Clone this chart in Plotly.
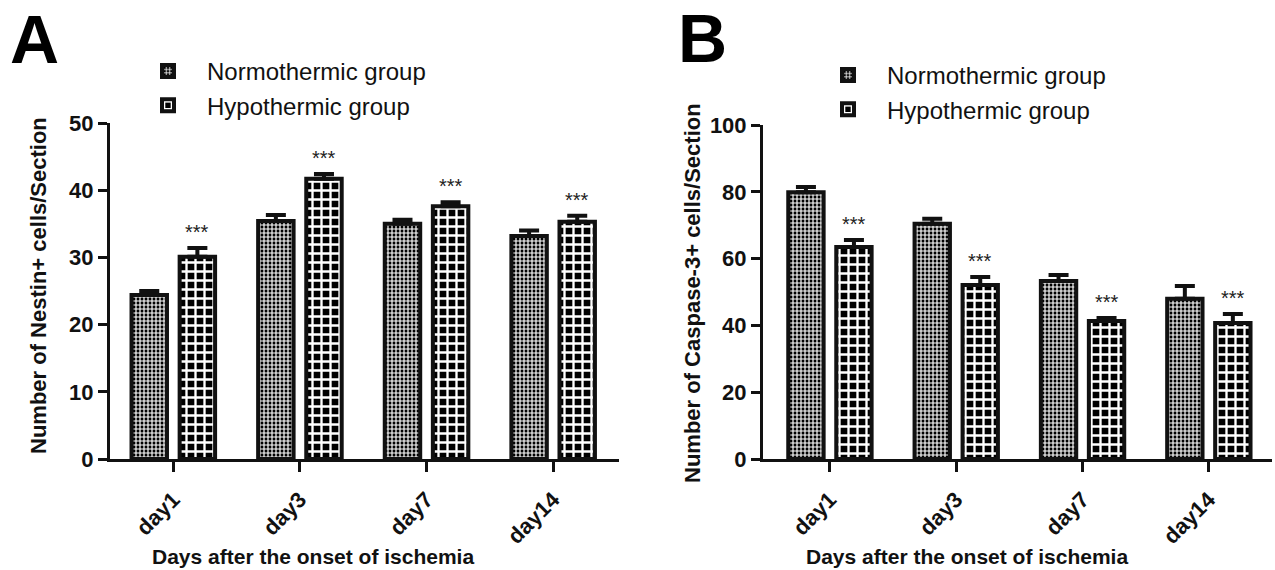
import plotly.graph_objects as go

# ---------------- data ----------------
days = ["day1", "day3", "day7", "day14"]

nestin_normo = [24.4, 35.4, 35.0, 33.2]
nestin_normo_err = [0.6, 0.9, 0.6, 0.8]
nestin_hypo = [30.1, 41.7, 37.6, 35.3]
nestin_hypo_err = [1.3, 0.7, 0.6, 0.9]

casp_normo = [79.9, 70.4, 53.3, 48.0]
casp_normo_err = [1.5, 1.5, 1.8, 3.8]
casp_hypo = [63.5, 52.1, 41.3, 40.7]
casp_hypo_err = [2.1, 2.4, 0.9, 2.7]

sig_label = "***"
series_names = ["Normothermic group", "Hypothermic group"]

# ---------------- style ----------------
FONT = "Liberation Sans, Arial, sans-serif"
BAR_W = 0.28
OFF_N = -0.33
OFF_H = 0.05
W, H = 1275, 570


def px_x(p):
    return p / W


def px_y(p):
    return 1 - p / H


fine_pat = dict(shape="+", fgcolor="white", bgcolor="black", size=4, solidity=0.5, fillmode="replace")
coarse_pat = dict(shape="+", fgcolor="white", bgcolor="black", size=9, solidity=0.45, fillmode="replace")


def bar(name, vals, errs, offset, pattern, xa, ya, legend, show):
    return go.Bar(
        name=name, x=days, y=vals, offset=offset, width=BAR_W,
        xaxis=xa, yaxis=ya, legend=legend, showlegend=show,
        marker=dict(color="white", line=dict(color="#111", width=4), pattern=pattern),
        error_y=dict(type="data", symmetric=False, array=errs, arrayminus=[0] * len(errs),
                     color="#111", thickness=4, width=10),
    )


fig = go.Figure()
fig.add_trace(bar(series_names[0], nestin_normo, nestin_normo_err, OFF_N, fine_pat, "x", "y", "legend", True))
fig.add_trace(bar(series_names[1], nestin_hypo, nestin_hypo_err, OFF_H, coarse_pat, "x", "y", "legend", True))
fig.add_trace(bar(series_names[0], casp_normo, casp_normo_err, OFF_N, fine_pat, "x2", "y2", "legend2", True))
fig.add_trace(bar(series_names[1], casp_hypo, casp_hypo_err, OFF_H, coarse_pat, "x2", "y2", "legend2", True))

annotations = []
for i in range(len(days)):
    annotations.append(dict(x=i + OFF_H + BAR_W / 2, y=nestin_hypo[i] + nestin_hypo_err[i],
                            xref="x", yref="y", text=sig_label, showarrow=False,
                            yanchor="middle", yshift=16, font=dict(family=FONT, size=20, color="#222")))
    annotations.append(dict(x=i + OFF_H + BAR_W / 2, y=casp_hypo[i] + casp_hypo_err[i],
                            xref="x2", yref="y2", text=sig_label, showarrow=False,
                            yanchor="middle", yshift=16, font=dict(family=FONT, size=20, color="#222")))

# panel letters
annotations.append(dict(x=px_x(8), y=px_y(39), xref="paper", yref="paper", text="A", showarrow=False,
                        xanchor="left", yanchor="middle", font=dict(family=FONT, size=68, color="black", weight="bold")))
annotations.append(dict(x=px_x(676), y=px_y(38), xref="paper", yref="paper", text="B", showarrow=False,
                        xanchor="left", yanchor="middle", font=dict(family=FONT, size=68, color="black", weight="bold")))

# axis titles
xtitle = "Days after the onset of ischemia"
annotations.append(dict(x=px_x(313), y=px_y(556), xref="paper", yref="paper", text=xtitle, showarrow=False,
                        xanchor="center", yanchor="middle", font=dict(family=FONT, size=21, color="#111", weight="bold")))
annotations.append(dict(x=px_x(967), y=px_y(556), xref="paper", yref="paper", text=xtitle, showarrow=False,
                        xanchor="center", yanchor="middle", font=dict(family=FONT, size=21, color="#111", weight="bold")))
annotations.append(dict(x=px_x(38), y=px_y(286), xref="paper", yref="paper", text="Number of Nestin+ cells/Section",
                        showarrow=False, textangle=-90, xanchor="center", yanchor="middle",
                        font=dict(family=FONT, size=22, color="#111", weight="bold")))
annotations.append(dict(x=px_x(692), y=px_y(293), xref="paper", yref="paper", text="Number of Caspase-3+ cells/Section",
                        showarrow=False, textangle=-90, xanchor="center", yanchor="middle",
                        font=dict(family=FONT, size=22, color="#111", weight="bold")))

xcommon = dict(showline=True, linecolor="#111", linewidth=3, ticks="outside", ticklen=10, tickwidth=3,
               tickcolor="#111", tickangle=-45, showgrid=False, zeroline=False, automargin=False,
               ticklabelstandoff=6,
               tickfont=dict(family=FONT, size=22, color="#111", weight="bold"),
               categoryorder="array", categoryarray=days)
ycommon = dict(showline=True, linecolor="#111", linewidth=3, ticks="outside", ticklen=9, tickwidth=3,
               tickcolor="#111", showgrid=False, zeroline=False, automargin=False,
               tickfont=dict(family=FONT, size=22, color="#111", weight="bold"))

fig.update_layout(
    width=W, height=H, autosize=False,
    margin=dict(l=0, r=0, t=0, b=0),
    paper_bgcolor="white", plot_bgcolor="white",
    barmode="overlay",
    xaxis=dict(domain=[px_x(110), px_x(619)], range=[-0.5, 3.52], anchor="y", **xcommon),
    yaxis=dict(domain=[px_y(459), px_y(123)], range=[0, 50], tickvals=[0, 10, 20, 30, 40, 50], anchor="x", **ycommon),
    xaxis2=dict(domain=[px_x(763), px_x(1272)], range=[-0.53, 3.5], anchor="y2", **xcommon),
    yaxis2=dict(domain=[px_y(459), px_y(125)], range=[0, 100], tickvals=[0, 20, 40, 60, 80, 100], anchor="x2", **ycommon),
    legend=dict(x=px_x(129), y=px_y(49), xanchor="left", yanchor="top", itemwidth=68,
                font=dict(family=FONT, size=24, color="#111"), bgcolor="rgba(0,0,0,0)", traceorder="normal"),
    legend2=dict(x=px_x(809), y=px_y(53), xanchor="left", yanchor="top", itemwidth=68,
                 font=dict(family=FONT, size=24, color="#111"), bgcolor="rgba(0,0,0,0)", traceorder="normal"),
    annotations=annotations,
)

fig.write_html("out.html", config={"displayModeBar": False},
               post_script="document.body.style.margin='0px';document.body.style.overflow='hidden';")
